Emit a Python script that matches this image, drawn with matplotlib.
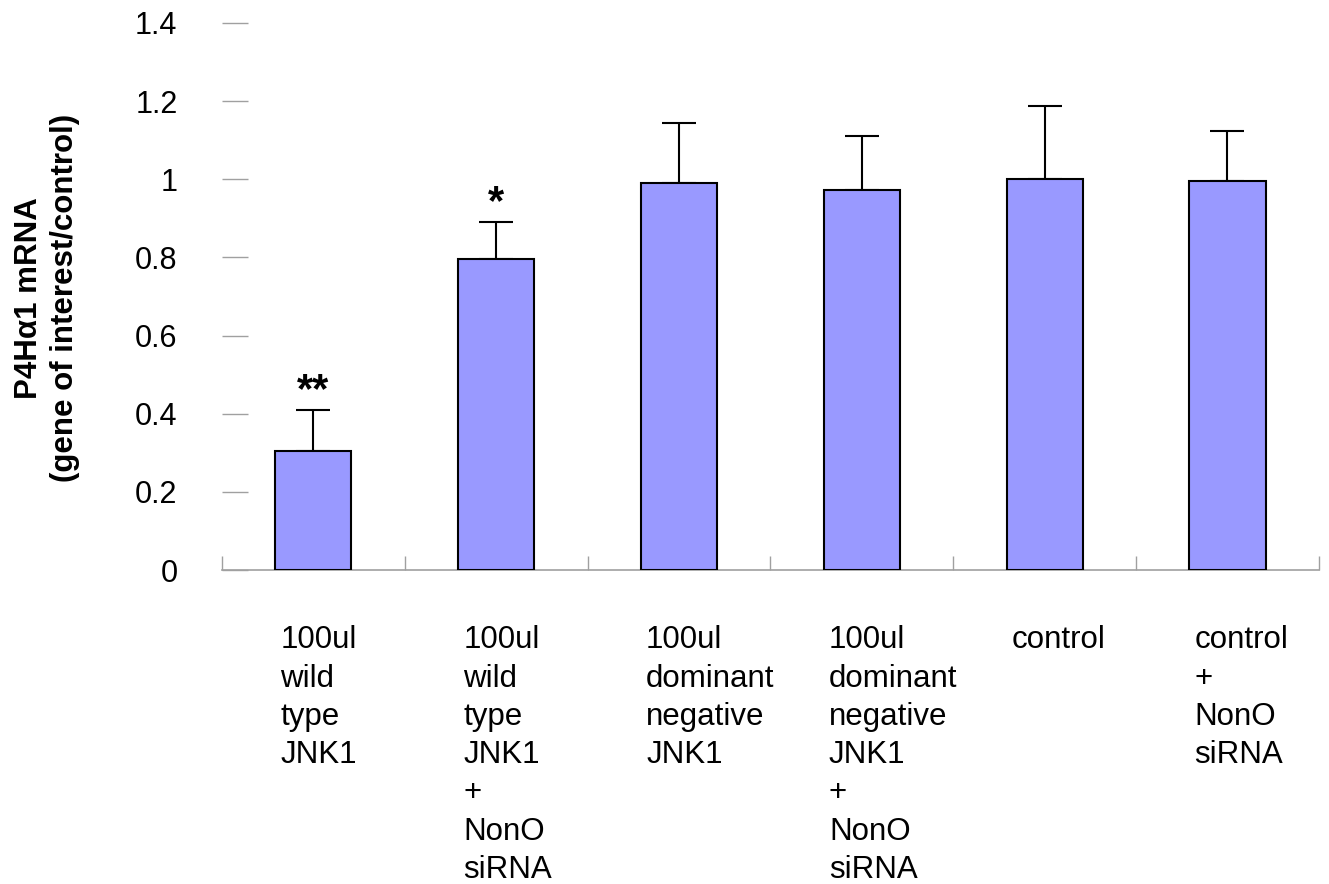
import numpy as np
import matplotlib
matplotlib.use("Agg")
import matplotlib.pyplot as plt
from matplotlib.transforms import blended_transform_factory

plt.rcParams['font.family'] = ['Liberation Sans', 'DejaVu Sans']

# data
labels = ["100ul\nwild\ntype\nJNK1",
          "100ul\nwild\ntype\nJNK1\n+\nNonO\nsiRNA",
          "100ul\ndominant\nnegative\nJNK1",
          "100ul\ndominant\nnegative\nJNK1\n+\nNonO\nsiRNA",
          "control",
          "control\n+\nNonO\nsiRNA"]
values = [0.305, 0.796, 0.99, 0.973, 1.0, 0.995]
errors = [0.105, 0.094, 0.154, 0.137, 0.187, 0.128]
stars = ["**", "*", "", "", "", ""]
yticks = [0, 0.2, 0.4, 0.6, 0.8, 1, 1.2, 1.4]
ytick_labels = ["0", "0.2", "0.4", "0.6", "0.8", "1", "1.2", "1.4"]

fig = plt.figure(figsize=(13.29, 8.84), dpi=100)
ax = fig.add_axes([0.1670, 0.3552, 0.8254, 0.6188])

x = np.arange(len(values))
ax.bar(x, values, width=0.416, color="#9999ff", edgecolor="black", linewidth=1.5, zorder=3)
ax.errorbar(x, values, yerr=[np.zeros(len(errors)), errors], fmt="none",
            ecolor="black", elinewidth=1.5, capsize=12, capthick=1.5, zorder=2)

for xi, v, e, s in zip(x, values, errors, stars):
    if s:
        ax.text(xi, v + e - 0.002, s, ha="center", va="bottom", fontsize=30, fontweight="bold")

ax.set_xlim(-0.5, len(values) - 0.5)
ax.set_ylim(0, 1.4)

for sp in ["top", "right", "left"]:
    ax.spines[sp].set_visible(False)
ax.spines["bottom"].set_color("#a0a0a0")
ax.spines["bottom"].set_linewidth(1.2)

ax.set_yticks(yticks)
ax.set_yticklabels(ytick_labels, fontsize=22)
ax.tick_params(axis="y", direction="in", length=19, width=1, color="#a0a0a0", pad=32)

# category boundary ticks
ax.set_xticks(np.arange(-0.5, len(values), 1.0))
ax.set_xticklabels([])
ax.tick_params(axis="x", direction="in", length=10, width=1, color="#a0a0a0")

trans = blended_transform_factory(ax.transData, ax.transAxes)
for xi, lab in zip(x, labels):
    ax.text(xi - 0.18, -0.101, lab, transform=trans, ha="left", va="top",
            fontsize=22.5, linespacing=1.36)

fig.text(47 / 1329, 1 - 298 / 884, "P4H\u03b11 mRNA\n(gene of interest/control)",
         rotation=90, ha="center", va="center", fontsize=22.5, fontweight="bold",
         multialignment="center", linespacing=1.3)

fig.savefig("out.png", dpi=100)
